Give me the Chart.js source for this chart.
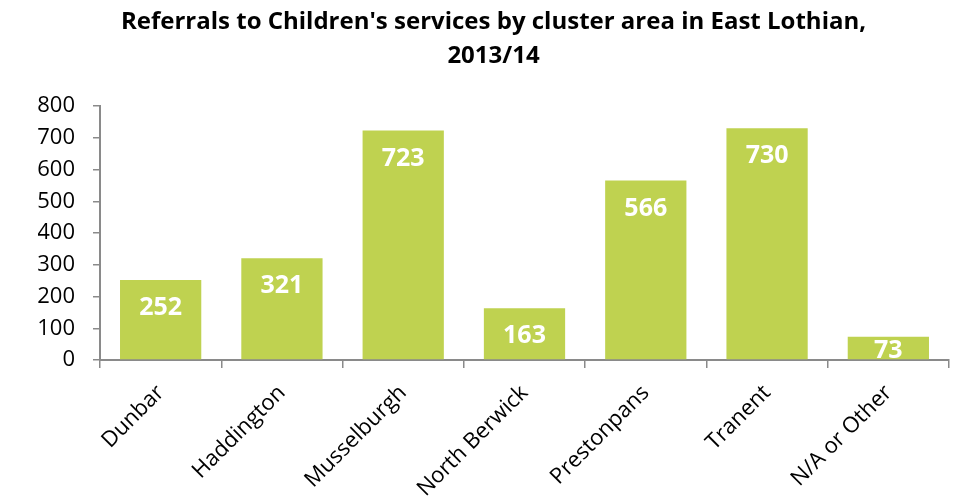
<!DOCTYPE html>
<html>
<head>
<meta charset="utf-8">
<script src="https://cdn.jsdelivr.net/npm/chart.js@4.4.1/dist/chart.umd.min.js"></script>
<style>
  html, body { margin: 0; padding: 0; background: #fff; }
  #wrap { width: 957px; height: 503px; }
</style>
</head>
<body>
<div id="wrap"><canvas id="myChart"></canvas></div>
<script>
const areas = ['Dunbar', 'Haddington', 'Musselburgh', 'North Berwick', 'Prestonpans', 'Tranent', 'N/A or Other']
const referrals = [252, 321, 723, 163, 566, 730, 73]
const yTicks = [0, 100, 200, 300, 400, 500, 600, 700, 800]

const barColour = '#BFD250'
const axisGrey = '#8a8a8a'
const fontFamily = "'Open Sans', Lato, sans-serif"

// white value labels just inside the top of each bar
const valueLabels = {
  id: 'valueLabels',
  afterDatasetsDraw(chart) {
    const ctx = chart.ctx
    const meta = chart.getDatasetMeta(0)
    const bottom = chart.scales.y.getPixelForValue(0)
    ctx.save()
    ctx.fillStyle = '#fff'
    ctx.font = 'bold 25px ' + fontFamily
    ctx.textAlign = 'center'
    ctx.textBaseline = 'middle'
    meta.data.forEach((bar, i) => {
      const y = Math.min(bar.y + 28, bottom - 9)
      ctx.fillText(referrals[i], bar.x, y)
    })
    ctx.restore()
  }
}

new Chart('myChart', {
  type: 'bar',
  data: {
    labels: areas,
    datasets: [{
      data: referrals,
      backgroundColor: barColour,
      barPercentage: 0.67,
      categoryPercentage: 1
    }]
  },
  options: {
    responsive: true,
    maintainAspectRatio: false,
    animation: false,
    // left padding nudges the title centre right; y axis width makes up the rest
    layout: { padding: { left: 38, right: 8, top: 0, bottom: 0 } },
    plugins: {
      legend: { display: false },
      tooltip: { enabled: false },
      title: {
        display: true,
        text: ["Referrals to Children's services by cluster area in East Lothian,", '2013/14'],
        color: '#000',
        font: { family: fontFamily, size: 24, weight: 'bold', lineHeight: 1.42 },
        padding: { top: 5, bottom: 33 }
      }
    },
    scales: {
      x: {
        grid: { drawOnChartArea: false, offset: true, tickLength: 8, color: axisGrey, lineWidth: 1.5 },
        border: { color: axisGrey, width: 2 },
        ticks: {
          color: '#000',
          font: { family: fontFamily, size: 22 },
          minRotation: 45,
          maxRotation: 45,
          padding: 12
        },
        afterFit(scale) { scale.height = 143 }
      },
      y: {
        min: 0,
        max: 800,
        afterBuildTicks(scale) { scale.ticks = yTicks.map(v => ({ value: v })) },
        grid: { drawOnChartArea: false, tickLength: 7, color: axisGrey, lineWidth: 1.5 },
        border: { color: axisGrey, width: 2 },
        ticks: {
          color: '#000',
          font: { family: fontFamily, size: 22 },
          padding: 18
        },
        afterFit(scale) { scale.width = 62 }
      }
    }
  },
  plugins: [valueLabels]
})
</script>
</body>
</html>
